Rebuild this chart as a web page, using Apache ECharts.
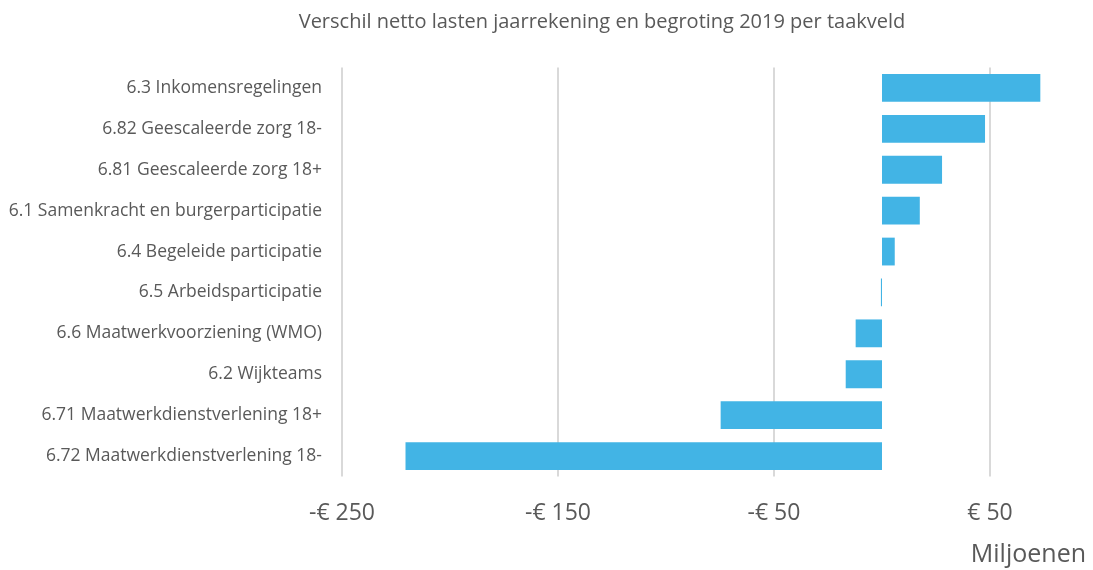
<!DOCTYPE html>
<html>
<head>
<meta charset="utf-8">
<script src="https://cdn.jsdelivr.net/npm/echarts@6/dist/echarts.min.js"></script>
<style>
  html, body { margin: 0; padding: 0; background: #fff; }
  #chart { width: 1093px; height: 570px; }
</style>
</head>
<body>
<div id="chart"></div>
<script>
// taakvelden, van boven naar beneden
let categories = [
  '6.3 Inkomensregelingen',
  '6.82 Geescaleerde zorg 18-',
  '6.81 Geescaleerde zorg 18+',
  '6.1 Samenkracht en burgerparticipatie',
  '6.4 Begeleide participatie',
  '6.5 Arbeidsparticipatie',
  '6.6 Maatwerkvoorziening (WMO)',
  '6.2 Wijkteams',
  '6.71 Maatwerkdienstverlening 18+',
  '6.72 Maatwerkdienstverlening 18-'
];
// verschil in miljoenen euro
let verschil = [73.3, 47.7, 27.8, 17.5, 5.9, -0.5, -12.2, -16.8, -74.7, -220.6];
// labels op de x-as
let tickValues = [-250, -150, -50, 50];

let textColor = '#595959';
let font = '"Open Sans", "Noto Sans", sans-serif';

let myChart = echarts.init(document.getElementById('chart'));

let option = {
  animation: false,
  textStyle: { fontFamily: font },
  title: [
    {
      text: 'Verschil netto lasten jaarrekening en begroting 2019 per taakveld',
      left: 597,
      textAlign: 'center',
      top: 7,
      textStyle: { color: textColor, fontSize: 20, fontWeight: 'normal', fontFamily: font }
    },
    {
      text: 'Miljoenen',
      right: 2,
      top: 537,
      textStyle: { color: textColor, fontSize: 25, fontWeight: 'normal', fontFamily: font }
    }
  ],
  // rechterrand (max 100) valt net buiten beeld
  grid: { left: 342, right: -5, top: 67.5, bottom: 93.5, containLabel: false, outerBoundsMode: 'none' },
  xAxis: {
    type: 'value',
    min: -250,
    max: 100,
    axisLine: { show: false },
    axisTick: { show: false, customValues: tickValues },
    splitLine: { show: true, lineStyle: { color: '#d9d9d9', width: 2 } },
    axisLabel: {
      customValues: tickValues,
      color: textColor,
      fontSize: 23,
      margin: 25,
      fontFamily: font,
      formatter: function (v) {
        return (v < 0 ? '-€ ' : '€ ') + Math.abs(v);
      }
    }
  },
  yAxis: {
    type: 'category',
    inverse: true,
    data: categories,
    axisLine: { show: false },
    axisTick: { show: false },
    axisLabel: { color: textColor, fontSize: 17.5, margin: 20, fontFamily: font }
  },
  series: [
    {
      type: 'bar',
      data: verschil,
      barCategoryGap: '32%',
      itemStyle: { color: '#42b4e5' }
    }
  ]
};

myChart.setOption(option);
</script>
</body>
</html>
